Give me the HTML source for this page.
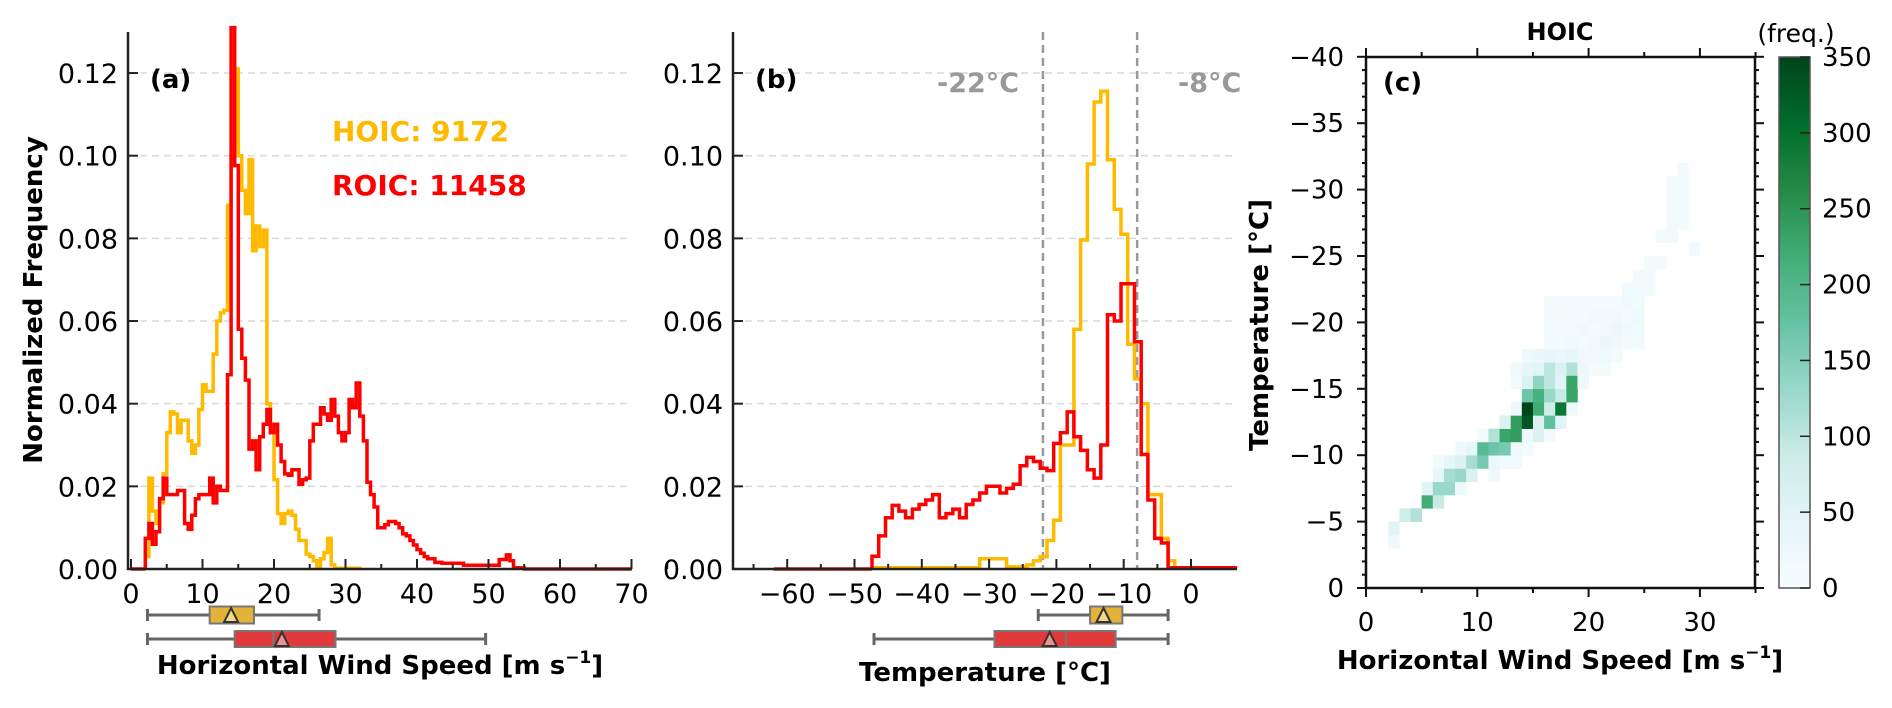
<!DOCTYPE html>
<html><head><meta charset="utf-8"><style>
html,body{margin:0;padding:0;background:#fff;}
svg{display:block;font-family:"DejaVu Sans","Liberation Sans",sans-serif;}
</style></head><body>
<svg id="fig" width="1892" height="708" viewBox="0 0 1892 708" xmlns="http://www.w3.org/2000/svg">
<g id="pa"></g>
<g id="pb"></g>
<g id="pc"></g>
<text x="150" y="88" font-size="26" font-weight="bold">(a)</text>
<text x="332" y="141" font-size="28" font-weight="bold" fill="#FFBA00">HOIC: 9172</text>
<text x="332" y="195" font-size="28" font-weight="bold" fill="#FF0000">ROIC: 11458</text>
<text x="755" y="88" font-size="26" font-weight="bold">(b)</text>
<text x="937" y="92" font-size="27" font-weight="bold" fill="#999">-22°C</text>
<text x="1178" y="92" font-size="27" font-weight="bold" fill="#999">-8°C</text>
<text x="1383" y="91" font-size="26" font-weight="bold">(c)</text>
<text x="380" y="674" font-size="26" font-weight="bold" text-anchor="middle">Horizontal Wind Speed [m s<tspan font-size="17" dy="-11">−1</tspan><tspan dy="11">]</tspan></text>
<text x="985" y="681" font-size="26" font-weight="bold" text-anchor="middle">Temperature [°C]</text>
<text transform="translate(42,300) rotate(-90)" font-size="26" font-weight="bold" text-anchor="middle">Normalized Frequency</text>
<text x="1560" y="669" font-size="26" font-weight="bold" text-anchor="middle">Horizontal Wind Speed [m s<tspan font-size="17" dy="-11">−1</tspan><tspan dy="11">]</tspan></text>
<text transform="translate(1268,325) rotate(-90)" font-size="26" font-weight="bold" text-anchor="middle">Temperature [°C]</text>
<text x="1560" y="40" font-size="24" font-weight="bold" text-anchor="middle">HOIC</text>
<text x="1796" y="42" font-size="25" text-anchor="middle">(freq.)</text>
</svg>
<script>
const windStart = 2.0;
const windBinWidth = 0.5;
const windRed = [0.0074,0.011,0.006,0.009,0.017,0.022,0.018,0.018,0.018,0.019,0.019,0.011,0.0096,0.013,0.017,0.018,0.018,0.018,0.022,0.016,0.020,0.019,0.019,0.047,0.135,0.0976,0.058,0.051,0.0457,0.029,0.031,0.024,0.032,0.035,0.0386,0.033,0.035,0.030,0.026,0.023,0.0227,0.024,0.024,0.0205,0.0216,0.022,0.031,0.035,0.035,0.039,0.0375,0.036,0.041,0.037,0.033,0.031,0.033,0.041,0.039,0.045,0.037,0.031,0.021,0.018,0.015,0.010,0.010,0.0107,0.0115,0.0115,0.011,0.010,0.0085,0.008,0.0069,0.0058,0.0047,0.0038,0.003,0.0025,0.0025,0.0016,0.0016,0.0014,0.0014,0.0014,0.0014,0.0014,0.0014,0.0009,0.0009,0.0009,0.0009,0.0009,0.0009,0.0009,0.0009,0.0009,0.0009,0.0023,0.0023,0.0034,0.002,0.0003,0.0003,0.0002];
const windYellow = [0.003,0.022,0.014,0.011,0.016,0.023,0.033,0.038,0.0375,0.033,0.036,0.036,0.031,0.028,0.030,0.0386,0.0446,0.043,0.043,0.052,0.060,0.062,0.0626,0.088,0.10,0.121,0.100,0.0916,0.086,0.099,0.077,0.083,0.078,0.082,0.040,0.033,0.0216,0.0134,0.011,0.0134,0.014,0.013,0.0096,0.0069,0.0069,0.0036,0.003,0.002,0.0005,0.0025,0.004,0.0074,0.001,0.0002,0.0002,0.0002,0.0002,0.0002,0.0002,0.0002];
const windXTicks = [0,10,20,30,40,50,60,70];
const freqTicks = [0.00,0.02,0.04,0.06,0.08,0.10,0.12];
const windBoxYellow = [2.3,11.0,14.0,17.2,26.3,14.0];
const windBoxRed = [2.3,14.5,19.9,28.6,49.6,21.1];

const tempStart = -47.4;
const tempBinWidth = 1;
const tempRed = [0.0031,0.008,0.0124,0.0154,0.014,0.0124,0.0145,0.0156,0.0167,0.018,0.0124,0.0134,0.0145,0.0124,0.0156,0.0167,0.0184,0.020,0.020,0.0184,0.0195,0.0205,0.025,0.027,0.026,0.0244,0.0238,0.0304,0.033,0.038,0.032,0.0287,0.024,0.022,0.030,0.0615,0.060,0.069,0.069,0.055,0.0277,0.0167,0.0074,0.0063,0.0003,0.0003,0.0003,0.0003,0.0003,0.0003,0.0003,0.0003,0.0003,0.0003];
const tempYellow = [0.0003,0.0003,0.0003,0.0003,0.0003,0.0003,0.0003,0.0003,0.0003,0.0003,0.0003,0.0003,0.0003,0.0003,0.0003,0.0003,0.0025,0.0025,0.0025,0.0025,0.0005,0.0005,0.0005,0.001,0.002,0.003,0.0069,0.0118,0.030,0.030,0.058,0.0796,0.098,0.113,0.1156,0.099,0.087,0.081,0.0544,0.046,0.040,0.018,0.018,0.0074,0.002,0.0003,0.0003,0.0003,0.0003,0.0003,0.0003,0.0003,0.0003,0.0003];
const tempXTicks = [-60,-50,-40,-30,-20,-10,0];
const tempLines = [-22,-8];
const tempBoxYellow = [-22.7,-15.0,-13.0,-10.2,-3.4,-13.0];
const tempBoxRed = [-47.1,-29.2,-18.6,-11.2,-3.4,-21.0];

const heatCells = [
[2,3,20],[2,4,50],[3,5,80],[4,5,110],
[5,6,220],[6,6,90],
[5,7,50],[6,7,130],[7,7,130],[8,7,20],
[6,8,40],[7,8,120],[8,8,130],[9,8,60],[11,8,20],
[6,9,15],[7,9,40],[8,9,60],[9,9,120],[10,9,160],[11,9,30],[12,9,15],[13,9,15],
[8,10,20],[9,10,40],[10,10,190],[11,10,170],[12,10,160],[13,10,20],[14,10,10],
[10,11,10],[11,11,110],[12,11,230],[13,11,240],[14,11,20],[15,11,60],[16,11,10],
[12,12,60],[13,12,240],[14,12,330],[15,12,60],[16,12,180],[17,12,50],
[13,13,20],[14,13,350],[15,13,220],[16,13,80],[17,13,290],[18,13,20],
[14,14,170],[15,14,210],[16,14,130],[17,14,90],[18,14,230],
[13,15,10],[14,15,60],[15,15,140],[16,15,100],[17,15,50],[18,15,230],[19,15,20],
[13,16,20],[14,16,40],[15,16,50],[16,16,100],[17,16,60],[18,16,110],[19,16,30],[20,16,10],[21,16,10],
[14,17,20],[15,17,30],[16,17,40],[17,17,30],[18,17,40],[19,17,20],[20,17,20],[21,17,20],[22,17,10],
[16,18,15],[17,18,15],[18,18,20],[19,18,15],[20,18,20],[21,18,30],[22,18,20],[23,18,10],[24,18,10],
[16,19,15],[17,19,10],[18,19,15],[19,19,20],[20,19,15],[21,19,20],[22,19,30],[23,19,20],[24,19,15],
[16,20,10],[17,20,10],[18,20,15],[19,20,15],[20,20,20],[21,20,20],[22,20,20],[23,20,15],[24,20,20],
[16,21,10],[17,21,10],[18,21,10],[19,21,10],[20,21,10],[21,21,10],[22,21,15],[23,21,20],[24,21,15],
[23,22,15],[24,22,15],[25,22,10],[24,23,10],[25,23,10],[25,24,10],[26,24,10],
[29,25,15],[26,26,10],[27,26,10],[27,27,10],[28,27,10],[27,28,10],[28,28,10],
[27,29,10],[28,29,10],[27,30,10],[28,30,10],[28,31,10]];
const cXTicks = [0,10,20,30];
const cYTicks = [0,-5,-10,-15,-20,-25,-30,-35,-40];
const cbarTicks = [0,50,100,150,200,250,300,350];

const NS = "http://www.w3.org/2000/svg";
function mk(parent, tag, attrs){const e=document.createElementNS(NS,tag);for(const k in attrs)e.setAttribute(k,attrs[k]);parent.appendChild(e);return e;}
function fmtMinus(v){return (v<0?"\u2212":"")+Math.abs(v);}

const YEL="#FFBA00", RED="#FF0000";
const yA = v => 569 - v*4133;
const xA = w => 131 + 7.15*w;
const xB = t => 1191 + 6.73*t;
const xC = w => 1366 + 11.13*w;
const yC = t => 588 + 13.28*t;

function histPanel(g, xs, x0, x1, name){
  freqTicks.forEach(v=>{ if(v>0){const l=mk(g,'line',{x1:x0,x2:x1,y1:yA(v),y2:yA(v),stroke:'#d9d9d9','stroke-width':1.5,'stroke-dasharray':'7,5'});
    
    }});
}
function stepPath(vals, start, bw, xs){
  let d = `M${xs(start).toFixed(1)},${yA(0).toFixed(1)}`;
  vals.forEach((v,i)=>{ d += `V${yA(Math.min(v,0.131)).toFixed(1)}H${xs(start+(i+1)*bw).toFixed(1)}`; });
  d += `V${yA(0).toFixed(1)}`;
  return d;
}
function axesLR(g, xs, x0, x1, xticks, minorStep, labelRight, name){
  freqTicks.forEach(v=>{
    mk(g,'line',{x1:x0,x2:x0+10,y1:yA(v),y2:yA(v),stroke:'#222','stroke-width':2});
    const t=mk(g,'text',{x:labelRight,y:yA(v)+10,'font-size':27,'text-anchor':'end'});
    t.textContent=v.toFixed(2);
    
    
  });
  xticks.forEach(v=>{
    mk(g,'line',{x1:xs(v),x2:xs(v),y1:569,y2:559,stroke:'#222','stroke-width':2});
    mk(g,'line',{x1:xs(v+minorStep),x2:xs(v+minorStep),y1:569,y2:564,stroke:'#222','stroke-width':2});
    const t=mk(g,'text',{x:xs(v),y:603,'font-size':27,'text-anchor':'middle'});
    t.textContent=fmtMinus(v);
    
    
  });
  mk(g,'line',{x1:x0,x2:x0,y1:32,y2:570,stroke:'#222','stroke-width':2.5});
  mk(g,'line',{x1:x0-1,x2:x1,y1:569,y2:569,stroke:'#222','stroke-width':2.5});
}
function boxPlot(g, xs, st, cy, h, fill, triFill, name){
  const [lo,q1,med,q3,hi,mean]=st;
  const grp=mk(g,'g',{});
  
  
  mk(grp,'line',{x1:xs(lo),x2:xs(q1),y1:cy,y2:cy,stroke:'#666','stroke-width':3});
  mk(grp,'line',{x1:xs(q3),x2:xs(hi),y1:cy,y2:cy,stroke:'#666','stroke-width':3});
  mk(grp,'line',{x1:xs(lo),x2:xs(lo),y1:cy-6,y2:cy+6,stroke:'#666','stroke-width':3});
  mk(grp,'line',{x1:xs(hi),x2:xs(hi),y1:cy-6,y2:cy+6,stroke:'#666','stroke-width':3});
  mk(grp,'rect',{x:xs(q1),y:cy-h/2,width:xs(q3)-xs(q1),height:h,fill:fill,stroke:'#777','stroke-width':2});
  mk(grp,'line',{x1:xs(med),x2:xs(med),y1:cy-h/2,y2:cy+h/2,stroke:'#777','stroke-width':2});
  const mx=xs(mean);
  mk(grp,'polygon',{points:`${mx-7},${cy+7} ${mx+7},${cy+7} ${mx},${cy-7}`,fill:triFill,stroke:'#333','stroke-width':2});
}

const ga=document.getElementById('pa');
histPanel(ga,xA,128,632,'a');
let p=mk(ga,'path',{d:stepPath(windYellow,windStart,windBinWidth,xA),fill:'none',stroke:YEL,'stroke-width':3.5});


p=mk(ga,'path',{d:stepPath(windRed,windStart,windBinWidth,xA)+`H${xA(70)}M${xA(0)},${yA(0)}H${xA(windStart)}`,fill:'none',stroke:RED,'stroke-width':3.5});


axesLR(ga,xA,128,632,windXTicks,5,118,'a');
boxPlot(ga,xA,windBoxYellow,615,17,'#E3B238','#F2D98A','hoic-wind-box');
boxPlot(ga,xA,windBoxRed,639,16,'#E03A3A','#F09090','roic-wind-box');

const gb=document.getElementById('pb');
histPanel(gb,xB,733,1237,'b');
tempLines.forEach(t=>{const l=mk(gb,'line',{x1:xB(t),x2:xB(t),y1:32,y2:569,stroke:'#999','stroke-width':2.5,'stroke-dasharray':'8,5'});
  
  });
p=mk(gb,'path',{d:stepPath(tempYellow,tempStart,tempBinWidth,xB),fill:'none',stroke:YEL,'stroke-width':3.5});


p=mk(gb,'path',{d:stepPath(tempRed,tempStart,tempBinWidth,xB)+`M${xB(-62)},${yA(0)}H${xB(tempStart)}`,fill:'none',stroke:RED,'stroke-width':3.5});


axesLR(gb,xB,733,1237,tempXTicks,-5,723,'b');
boxPlot(gb,xB,tempBoxYellow,615,17,'#E3B238','#F2D98A','hoic-temp-box');
boxPlot(gb,xB,tempBoxRed,639,16,'#E03A3A','#F09090','roic-temp-box');

const stops=[[247,252,253],[229,245,249],[204,236,230],[153,216,201],[102,194,164],[65,174,118],[35,139,69],[0,109,44],[0,68,27]];
function bugn(f){f=Math.max(0,Math.min(1,f));const s=f*(stops.length-1);const i=Math.min(Math.floor(s),stops.length-2);const r=s-i;
  const c=stops[i].map((v,j)=>Math.round(v+(stops[i+1][j]-v)*r));return `rgb(${c[0]},${c[1]},${c[2]})`;}
const gc=document.getElementById('pc');
heatCells.forEach(([w,k,v])=>{
  const r=mk(gc,'rect',{x:xC(w),y:yC(-(k+1)),width:xC(w+1)-xC(w)+0.3,height:yC(-k)-yC(-(k+1))+0.3,fill:bugn(v/350)});
  
  
});
mk(gc,'rect',{x:1366,y:57,width:389,height:531,fill:'none',stroke:'#111','stroke-width':2.5});
for(let w=0;w<=35;w+=5){
  const major = w%10===0;
  mk(gc,'line',{x1:xC(w),x2:xC(w),y1:588,y2:588+(major?9:5),stroke:'#111','stroke-width':2});
  mk(gc,'line',{x1:xC(w),x2:xC(w),y1:57,y2:57-(major?9:5),stroke:'#111','stroke-width':2});
}
for(let t=0;t>=-40;t--){
  const major = t%5===0;
  const L = major?9:4;
  mk(gc,'line',{x1:1366,x2:1366-L,y1:yC(t),y2:yC(t),stroke:'#111','stroke-width':2});
  mk(gc,'line',{x1:1755,x2:1755+L,y1:yC(t),y2:yC(t),stroke:'#111','stroke-width':2});
}
cXTicks.forEach(v=>{const t=mk(gc,'text',{x:xC(v),y:631,'font-size':26,'text-anchor':'middle'});t.textContent=v;
  
  });
cYTicks.forEach(v=>{const t=mk(gc,'text',{x:1344,y:yC(v)+9,'font-size':26,'text-anchor':'end'});t.textContent=fmtMinus(v);
  
  });
const cbY = v => 588 - v/350*531;
const cb=mk(gc,'g',{});


for(let i=0;i<200;i++){
  mk(cb,'rect',{x:1779,y:cbY((i+1)*350/200),width:31,height:531/200+0.6,fill:bugn((i+0.5)/200)});
}
mk(cb,'rect',{x:1779,y:57,width:31,height:531,fill:'none',stroke:'#555','stroke-width':1.5});
cbarTicks.forEach(v=>{
  mk(cb,'line',{x1:1800,x2:1810,y1:cbY(v),y2:cbY(v),stroke:'#222','stroke-width':1.5});
  const t=mk(cb,'text',{x:1822,y:cbY(v)+9,'font-size':26});t.textContent=v;
  
  
});
</script>
</body></html>
